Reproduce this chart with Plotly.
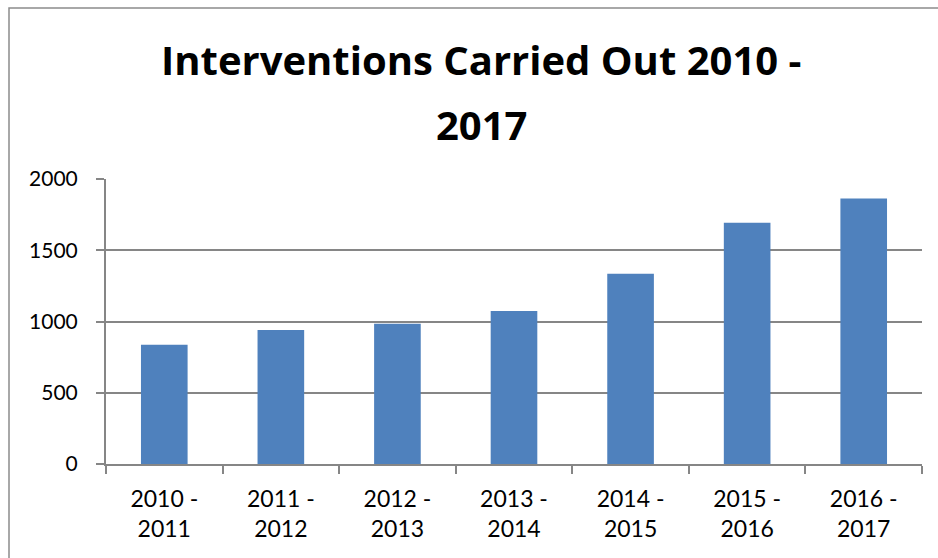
import plotly.graph_objects as go

# Annual intervention counts by financial year
periods = ["2010 -<br>2011", "2011 -<br>2012", "2012 -<br>2013", "2013 -<br>2014",
           "2014 -<br>2015", "2015 -<br>2016", "2016 -<br>2017"]
interventions = [837, 940, 985, 1074, 1335, 1693, 1864]
y_ticks = [0, 500, 1000, 1500, 2000]
title_lines = ["Interventions Carried Out 2010 -", "2017"]

BAR = "#4F81BD"
GRID = "#868686"
FONT = "Lato"
TITLE_FONT = "Open Sans"

W, H = 938, 558
L, R, T, B = 106, 16, 179, 94
pw, ph = W - L - R, H - T - B


def px_x(x):
    return (x - L) / pw


def px_y(y):
    return (H - B - y) / ph


fig = go.Figure(go.Bar(x=periods, y=interventions, marker=dict(color=BAR, line=dict(width=0))))

fig.update_layout(
    width=W, height=H,
    margin=dict(l=L, r=R, t=T, b=B),
    paper_bgcolor="white", plot_bgcolor="white",
    bargap=0.6,
    showlegend=False,
    font=dict(family=FONT, color="black"),
)

fig.update_xaxes(
    showline=True, linecolor=GRID, linewidth=2,
    ticks="outside", ticklen=8, tickcolor=GRID, tickwidth=2,
    tickson="boundaries",
    tickfont=dict(size=23, family=FONT, color="black"),
    ticklabelstandoff=13,
    showgrid=False,
)
fig.update_yaxes(
    range=[0, 2000], tickvals=y_ticks,
    showline=True, linecolor=GRID, linewidth=2,
    ticks="outside", ticklen=8, tickcolor=GRID, tickwidth=2,
    showgrid=True, gridcolor=GRID, gridwidth=2,
    tickfont=dict(size=21, family=FONT, color="black"),
    ticklabelstandoff=14,
    zeroline=False,
)

# Chart title, two centred lines
for text, yc in zip(title_lines, [59, 124]):
    fig.add_annotation(
        text=f"<b>{text}</b>", xref="paper", yref="paper",
        x=px_x(481), y=px_y(yc), xanchor="center", yanchor="middle",
        showarrow=False, font=dict(size=40, family=TITLE_FONT, color="black"),
    )

# Outer chart frame
fig.add_shape(
    type="rect", xref="paper", yref="paper",
    x0=px_x(9), x1=px_x(960), y0=px_y(580), y1=px_y(8),
    line=dict(color="#8c8c8c", width=1.5), fillcolor="rgba(0,0,0,0)", layer="below",
)

fig.write_html("out.html")
